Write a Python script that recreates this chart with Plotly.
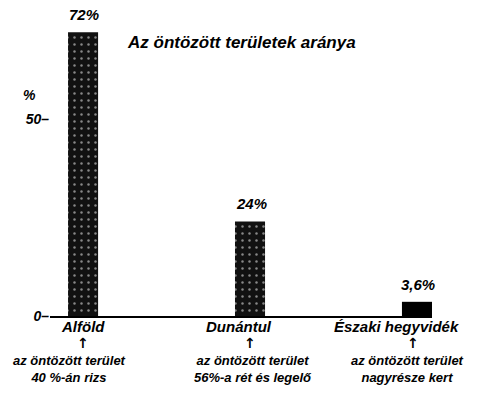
import plotly.graph_objects as go

categories = ["Alföld", "Dunántul", "Északi hegyvidék"]
values = [72, 24, 3.6]
value_labels = ["72%", "24%", "3,6%"]
notes_line1 = ["az öntözött terület", "az öntözött terület", "az öntözött terület"]
notes_line2 = ["40 %-án rizs", "56%-a rét és legelő", "nagyrésze kert"]
y_ticks = [0, 50]
y_ticklabels = ["0–", "50–"]
title_text = "Az öntözött területek aránya"

FONT = "Liberation Sans"
ital = dict(family=FONT, color="black", style="italic", weight="bold")

xpos = list(range(len(categories)))

fig = go.Figure()
fig.add_trace(go.Bar(
    x=xpos, y=values, width=0.18,
    marker=dict(color=["#111111", "#111111", "#000000"], line=dict(width=0),
                pattern=dict(shape=[".", ".", ""], fgcolor="#dddddd", size=7, solidity=0.1)),
    hoverinfo="skip",
))

ann = []
cat_dx = [0, -11, -20]
note_dx = [-14, 3, -9]
for i, c in enumerate(categories):
    ann.append(dict(x=i, y=values[i], xref="x", yref="y", text=value_labels[i], showarrow=False,
                    yanchor="bottom", yshift=7, xshift=1, font=dict(size=15, **ital)))
    ann.append(dict(x=i, y=0, xref="x", yref="paper", text=c, showarrow=False,
                    yanchor="middle", yshift=-10, xshift=cat_dx[i], font=dict(size=15, **ital)))
    ann.append(dict(x=i, y=0, xref="x", yref="paper", text="↑", showarrow=False,
                    yanchor="middle", yshift=-27, xshift=-4 if i == 2 else 0,
                    font=dict(size=14, family="DejaVu Sans", color="black", weight="bold")))
    ann.append(dict(x=i, y=0, xref="x", yref="paper", text=notes_line1[i] + "<br>" + notes_line2[i],
                    showarrow=False, yanchor="top", yshift=-35, xshift=note_dx[i],
                    font=dict(size=13, **ital)))

ann.append(dict(x=0, y=50, xref="paper", yref="y", text="%", showarrow=False,
                xanchor="right", xshift=-12, yshift=24, font=dict(size=14, **ital)))
ann.append(dict(x=0.5, y=1, xref="paper", yref="paper", text=title_text, showarrow=False,
                yanchor="middle", yshift=-22, font=dict(size=17, **ital)))

fig.update_layout(
    width=482, height=406,
    margin=dict(l=50, r=50, t=20, b=90),
    paper_bgcolor="white", plot_bgcolor="white",
    showlegend=False,
    annotations=ann,
    xaxis=dict(range=[-0.198, 2.09], showticklabels=False, ticks="", showgrid=False,
               zeroline=False, showline=True, linecolor="black", linewidth=2),
    yaxis=dict(range=[0, 75.1], tickvals=y_ticks, ticktext=y_ticklabels, showgrid=False,
               zeroline=False, showline=False, ticks="", tickfont=dict(size=14, **ital)),
)
fig.write_html("out.html", config={"displayModeBar": False},
               post_script="document.body.style.margin='0px';")
